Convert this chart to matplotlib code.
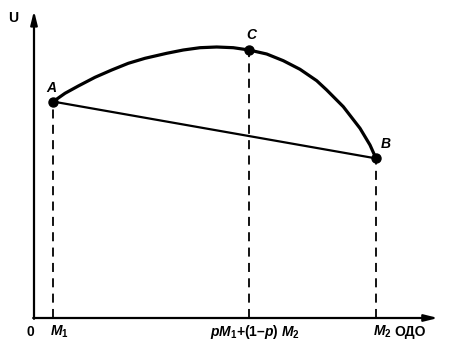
import matplotlib
matplotlib.use('Agg')
import matplotlib.pyplot as plt

plt.rcParams['font.family'] = ['Liberation Sans', 'DejaVu Sans']
plt.rcParams['mathtext.fontset'] = 'custom'
plt.rcParams['mathtext.rm'] = 'Liberation Sans:bold'
plt.rcParams['mathtext.it'] = 'Liberation Sans:bold:italic'
plt.rcParams['mathtext.bf'] = 'Liberation Sans:bold'

# points
point_names = ['A', 'C', 'B']
point_x = [0.48, 5.375, 8.55]
point_y = [5.41, 6.7, 3.99]

# the utility curve through A, C, B
curve_x = [0.48, 0.775, 1.1075, 1.525, 1.9425, 2.3575, 2.775, 3.3175,
           3.7325, 4.15, 4.5675, 4.9825, 5.375, 5.8175, 6.2325, 6.65,
           7.0675, 7.3175, 7.7325, 8.15, 8.4, 8.55]
curve_y = [5.41, 5.6175, 5.8, 6.0175, 6.2, 6.3675, 6.4925, 6.6175,
           6.7, 6.7575, 6.775, 6.7575, 6.7, 6.6, 6.4325, 6.2175,
           5.9325, 5.7, 5.2825, 4.7425, 4.325, 3.99]

tick_labels = ['$M_1$', '$pM_1$+(1\u2013$p$) $M_2$', '$M_2$']

fig = plt.figure(figsize=(4.52, 3.5), dpi=100)
ax = fig.add_axes([0, 0, 1, 1])
ax.set_xlim(-0.85, 10.45)
ax.set_ylim(-0.8, 7.95)
ax.axis('off')

# axes with arrows
ax.annotate('', xy=(0, 7.68), xytext=(0, -0.02),
            arrowprops=dict(arrowstyle='-|>,head_length=0.8,head_width=0.2',
                            lw=1.6, color='black', shrinkA=0, shrinkB=0))
ax.annotate('', xy=(10.1, 0), xytext=(-0.02, 0),
            arrowprops=dict(arrowstyle='-|>,head_length=0.8,head_width=0.2',
                            lw=1.6, color='black', shrinkA=0, shrinkB=0))

# dashed drop lines
for x, y in zip(point_x, point_y):
    ax.plot([x, x], [0, y], color='black', lw=1.3, ls=(0, (5, 3.5)))

ax.plot(curve_x, curve_y, color='black', lw=2.3, solid_capstyle='round',
        solid_joinstyle='round')
ax.plot([point_x[0], point_x[2]], [point_y[0], point_y[2]], color='black', lw=1.6)
ax.plot(point_x, point_y, 'o', color='black', ms=6.5)

# point letters
offsets = [(-0.05, 0.35), (0.05, 0.37), (0.25, 0.35)]
for name, x, y, (dx, dy) in zip(point_names, point_x, point_y, offsets):
    ax.text(x + dx, y + dy, name, fontsize=10, fontweight='bold',
            fontstyle='italic', ha='center', va='center')

# x labels
ax.text(-0.1, -0.35, '0', fontsize=10, fontweight='bold', ha='center', va='center')
for x, lab in zip(point_x, tick_labels):
    ax.text(x + 0.15, -0.35, lab, fontsize=10, fontweight='bold',
            ha='center', va='center')
ax.text(9.4, -0.35, '\u041e\u0414\u041e', fontsize=10, fontweight='bold',
        ha='center', va='center')
ax.text(-0.53, 7.5, 'U', fontsize=10, fontweight='bold', ha='center', va='center')

fig.savefig('out.png', dpi=100)
